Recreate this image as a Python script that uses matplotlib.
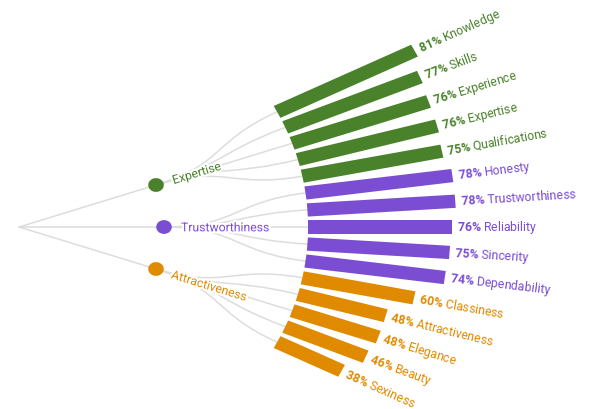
import numpy as np
import matplotlib.pyplot as plt
from matplotlib.patches import Rectangle, Ellipse, PathPatch
from matplotlib.path import Path
from matplotlib.transforms import Affine2D
import matplotlib.patheffects as pe

plt.rcParams['font.family'] = ['Roboto', 'DejaVu Sans']
plt.rcParams['mathtext.fontset'] = 'custom'
plt.rcParams['mathtext.rm'] = 'Roboto'
plt.rcParams['mathtext.bf'] = 'Roboto:bold'

groups = ['Expertise', 'Trustworthiness', 'Attractiveness']
group_colors = ['#4a822b', '#7b4dd3', '#e08a00']

expertise_items = ['Knowledge', 'Skills', 'Experience', 'Expertise', 'Qualifications']
expertise_vals = [81, 77, 76, 76, 75]
trust_items = ['Honesty', 'Trustworthiness', 'Reliability', 'Sincerity', 'Dependability']
trust_vals = [78, 78, 76, 75, 74]
attract_items = ['Classiness', 'Attractiveness', 'Elegance', 'Beauty', 'Sexiness']
attract_vals = [60, 48, 48, 46, 38]

items = [expertise_items, trust_items, attract_items]
vals = [expertise_vals, trust_vals, attract_vals]

# layout is done in a square-pixel space, then squeezed vertically by sy
sy = 0.885
height = 409 / sy
root = (19, (409 - 227) / sy)
r_group = 145
r_leaf = 289
step = 3.82         # degrees between leaves
px_per_pct = 1.9
bar_h = 15
node_r = 7.8
fs = 8.8
half_cap = 4.9
link_col = '#dddddd'

fig = plt.figure(figsize=(6, 4.09), dpi=100)
ax = fig.add_axes([0, 0, 1, 1])
ax.set_xlim(0, 600)
ax.set_ylim(0, height)
ax.axis('off')


def frame(ang):
    return Affine2D().rotate_deg(ang).translate(*root) + ax.transData


def polar(ang, r):
    a = np.deg2rad(ang)
    return root[0] + r * np.cos(a), root[1] + r * np.sin(a)


def screen_angle(ang):
    return np.degrees(np.arctan(sy * np.tan(np.deg2rad(ang))))


n_leaves = sum(len(g) for g in items)
k = 0
for g, name in enumerate(groups):
    col = group_colors[g]
    leaf_angs = [((n_leaves - 1) / 2 - (k + j)) * step for j in range(len(items[g]))]
    g_ang = np.mean(leaf_angs)
    gx, gy = polar(g_ang, r_group)

    # root -> group
    ax.plot([root[0], gx], [root[1], gy], color=link_col, lw=1.1, zorder=1)

    r_mid = (r_group + r_leaf) / 2
    for j, (item, v) in enumerate(zip(items[g], vals[g])):
        ang = leaf_angs[j]
        # group -> leaf, radial bezier
        verts = [polar(g_ang, r_group), polar(g_ang, r_mid),
                 polar(ang, r_mid), polar(ang, r_leaf)]
        path = Path(verts, [Path.MOVETO, Path.CURVE4, Path.CURVE4, Path.CURVE4])
        ax.add_patch(PathPatch(path, fill=False, ec=link_col, lw=1.1, zorder=1))

        T = frame(ang)
        length = v * px_per_pct
        ax.add_patch(Rectangle((r_leaf, -bar_h / 2), length, bar_h,
                               transform=T, fc=col, lw=0, zorder=2))
        ax.text(r_leaf + length + 5, -half_cap,
                r'$\mathbf{%d\%%}$ %s' % (v, item),
                transform=T, rotation=screen_angle(ang), rotation_mode='anchor',
                ha='left', va='baseline', color=col, fontsize=fs, zorder=4)
    k += len(items[g])

    Tg = frame(g_ang)
    ax.add_patch(Ellipse((r_group, 0), 2 * node_r, 2 * node_r, transform=Tg,
                         fc=col, lw=0, zorder=3))
    ax.text(r_group + 17, -half_cap, name, transform=Tg,
            rotation=screen_angle(g_ang), rotation_mode='anchor',
            ha='left', va='baseline', color=col, fontsize=fs, zorder=4,
            path_effects=[pe.withStroke(linewidth=3, foreground='white')])

fig.savefig('out.png', dpi=100)
